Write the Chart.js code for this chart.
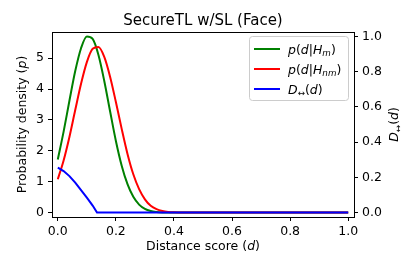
<!DOCTYPE html>
<html lang="en">
<head>
<meta charset="UTF-8" />
<title>SecureTL w/SL (Face)</title>
<script src="https://cdn.jsdelivr.net/npm/chart.js@4"></script>
<style>
  body { margin: 0; background: #fff; }
  #wrap { width: 416px; height: 271px; }
</style>
</head>
<body>
<div id="wrap"><canvas id="distChart" width="416" height="271"></canvas></div>
<script>
  // distance samples for the two densities
  const distance = [0, 0.02, 0.04, 0.06, 0.08, 0.10, 0.12, 0.14, 0.16, 0.18, 0.20, 0.22,
    0.24, 0.26, 0.28, 0.30, 0.32, 0.34, 0.36, 0.38, 0.40, 0.42, 0.44, 1.0];
  const pMatch = [1.72, 2.62, 3.62, 4.58, 5.32, 5.70, 5.62, 5.10, 4.26, 3.28, 2.32, 1.52,
    0.92, 0.51, 0.26, 0.12, 0.05, 0.02, 0.007, 0.002, 0, 0, 0, 0];
  const pNonMatch = [1.08, 1.69, 2.45, 3.32, 4.17, 4.87, 5.30, 5.36, 5.04, 4.40, 3.58, 2.71,
    1.90, 1.24, 0.76, 0.43, 0.22, 0.11, 0.05, 0.02, 0.008, 0.003, 0, 0];

  // D<->(d) curve, right axis
  const dCurveX = [0, 0.02, 0.04, 0.06, 0.08, 0.10, 0.12, 0.135, 1.0];
  const dCurveY = [0.255, 0.236, 0.207, 0.170, 0.128, 0.085, 0.040, 0, 0];

  const xTicks = [0, 0.2, 0.4, 0.6, 0.8, 1.0];
  const yTicks = [0, 1, 2, 3, 4, 5];
  const y2Ticks = [0, 0.2, 0.4, 0.6, 0.8, 1.0];

  const family = '"DejaVu Sans"';
  const tickSize = 12.5;

  const pts = (xs, ys) => xs.map((x, i) => ({ x: x, y: ys[i] }));

  // text with italic / subscript pieces, y is the baseline
  function drawRich(ctx, parts, x, y, size, align) {
    const fonts = parts.map(p => {
      const sub = p[1][0] === 's';
      const it = p[1].slice(-1) === 'i';
      return (it ? 'italic ' : '') + (sub ? size * 0.7 : size) + 'px ' + family;
    });
    let w = 0;
    parts.forEach((p, i) => { ctx.font = fonts[i]; w += ctx.measureText(p[0]).width; });
    let cx = align === 'center' ? x - w / 2 : x;
    ctx.textAlign = 'left';
    ctx.textBaseline = 'alphabetic';
    parts.forEach((p, i) => {
      ctx.font = fonts[i];
      const dy = p[1][0] === 's' ? size * 0.22 : 0;
      ctx.fillText(p[0], cx, y + dy);
      cx += ctx.measureText(p[0]).width;
    });
  }

  const legendItems = [
    { color: 'green', parts: [['p', 'i'], ['(', 'n'], ['d', 'i'], ['|', 'n'], ['H', 'i'], ['m', 'si'], [')', 'n']] },
    { color: '#ff0000', parts: [['p', 'i'], ['(', 'n'], ['d', 'i'], ['|', 'n'], ['H', 'i'], ['nm', 'si'], [')', 'n']] },
    { color: '#0000ff', parts: [['D', 'i'], ['\u2194', 'sn'], ['(', 'n'], ['d', 'i'], [')', 'n']] },
  ];

  const decorations = {
    id: 'decorations',
    afterDraw(chart) {
      const ctx = chart.ctx;
      const a = chart.chartArea;
      ctx.save();
      ctx.fillStyle = '#000';

      // top spine
      ctx.strokeStyle = '#000';
      ctx.lineWidth = 1;
      ctx.beginPath();
      ctx.moveTo(a.left, a.top + 0.5);
      ctx.lineTo(a.right, a.top + 0.5);
      ctx.stroke();

      // title
      drawRich(ctx, [['SecureTL w/SL (Face)', 'n']], (a.left + a.right) / 2, 25, 15, 'center');

      // x label
      drawRich(ctx, [['Distance score (', 'n'], ['d', 'i'], [')', 'n']], (a.left + a.right) / 2, 250, tickSize, 'center');

      const midY = (a.top + a.bottom) / 2;
      // left y label
      ctx.save();
      ctx.translate(26, midY);
      ctx.rotate(-Math.PI / 2);
      drawRich(ctx, [['Probability density (', 'n'], ['p', 'i'], [')', 'n']], 0, 0, tickSize, 'center');
      ctx.restore();

      // right y label
      ctx.save();
      ctx.translate(398, midY);
      ctx.rotate(-Math.PI / 2);
      drawRich(ctx, [['D', 'i'], ['\u2194', 'sn'], ['(', 'n'], ['d', 'i'], [')', 'n']], 0, 0, tickSize, 'center');
      ctx.restore();

      // legend box
      const bx = 249, by = 36, bw = 99, bh = 64;
      ctx.fillStyle = 'rgba(255,255,255,0.8)';
      ctx.strokeStyle = '#cccccc';
      ctx.beginPath();
      ctx.roundRect(bx + 0.5, by + 0.5, bw, bh, 3);
      ctx.fill();
      ctx.stroke();
      legendItems.forEach((item, i) => {
        const ry = by + 13 + i * 20;
        ctx.strokeStyle = item.color;
        ctx.lineWidth = 2;
        ctx.beginPath();
        ctx.moveTo(bx + 5, ry);
        ctx.lineTo(bx + 31, ry);
        ctx.stroke();
        ctx.fillStyle = '#000';
        drawRich(ctx, item.parts, bx + 39, ry + 4.5, tickSize, 'left');
      });
      ctx.restore();
    }
  };

  const axisGrid = { display: true, drawOnChartArea: false, drawTicks: true, tickLength: 4, color: '#000' };
  const axisBorder = { display: true, color: '#000', width: 1 };
  const tickFont = { family: 'DejaVu Sans', size: tickSize };

  const config = {
    type: 'line',
    data: {
      datasets: [
        {
          label: 'D(d)',
          data: pts(dCurveX, dCurveY),
          yAxisID: 'y2',
          borderColor: '#0000ff',
          borderWidth: 2,
          tension: 0,
          order: 0,
        },
        {
          label: 'p(d|Hnm)',
          data: pts(distance, pNonMatch),
          yAxisID: 'y',
          borderColor: '#ff0000',
          borderWidth: 2,
          cubicInterpolationMode: 'monotone',
          order: 1,
        },
        {
          label: 'p(d|Hm)',
          data: pts(distance, pMatch),
          yAxisID: 'y',
          borderColor: 'green',
          borderWidth: 2,
          cubicInterpolationMode: 'monotone',
          order: 2,
        },
      ],
    },
    options: {
      responsive: false,
      animation: false,
      layout: { padding: { top: 32, left: 0, right: 0, bottom: 0 } },
      elements: { point: { radius: 0 } },
      plugins: {
        legend: { display: false },
        tooltip: { enabled: false },
        title: { display: false },
      },
      scales: {
        x: {
          type: 'linear',
          position: 'bottom',
          min: -0.02,
          max: 1.02,
          afterBuildTicks: s => { s.ticks = xTicks.map(v => ({ value: v })); },
          afterFit: s => { s.height = 54; },
          grid: axisGrid,
          border: axisBorder,
          ticks: { color: '#000', font: tickFont, padding: 3, maxRotation: 0, callback: v => v.toFixed(1) },
        },
        y: {
          type: 'linear',
          position: 'left',
          min: -0.142,
          max: 5.845,
          afterBuildTicks: s => { s.ticks = yTicks.map(v => ({ value: v })); },
          afterFit: s => { s.width = 52; },
          grid: axisGrid,
          border: axisBorder,
          ticks: { color: '#000', font: tickFont, padding: 4, callback: v => String(v) },
        },
        y2: {
          type: 'linear',
          position: 'right',
          min: -0.025,
          max: 1.025,
          afterBuildTicks: s => { s.ticks = y2Ticks.map(v => ({ value: v })); },
          afterFit: s => { s.width = 62; },
          grid: axisGrid,
          border: axisBorder,
          ticks: { color: '#000', font: tickFont, padding: 4, callback: v => v.toFixed(1) },
        },
      },
    },
    plugins: [decorations],
  };

  const distChart = new Chart(document.getElementById('distChart').getContext('2d'), config);
</script>
</body>
</html>
